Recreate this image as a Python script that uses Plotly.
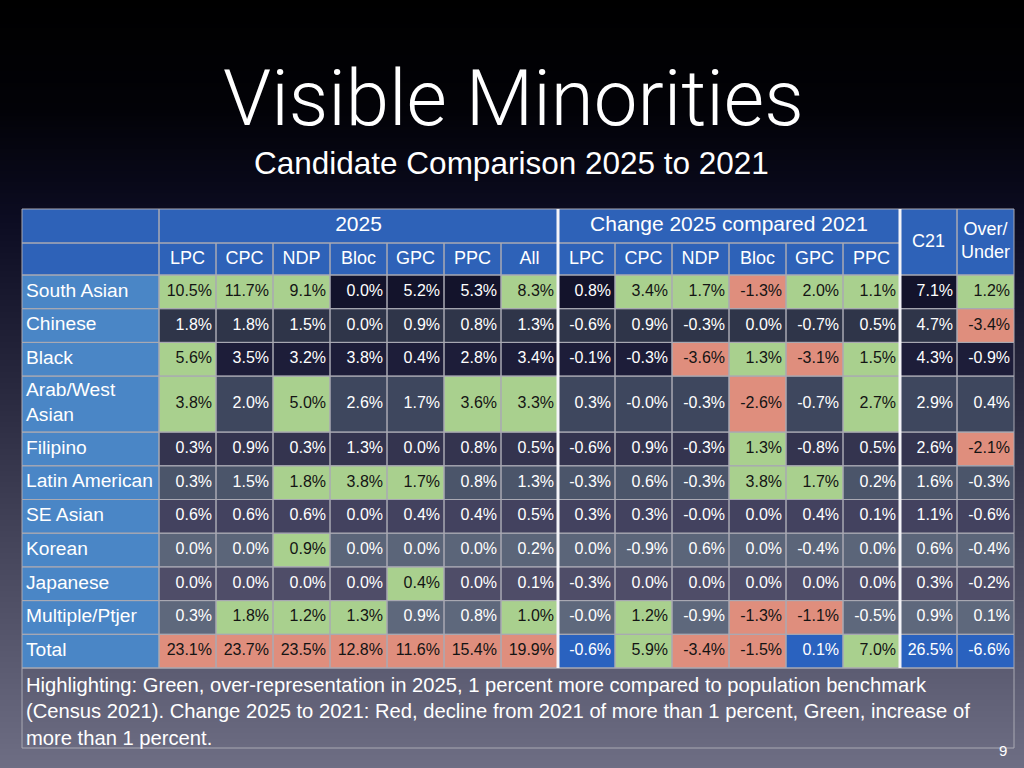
import plotly.graph_objects as go

# ---------------- data ----------------
GROUPS = ["South Asian", "Chinese", "Black", "Arab/West Asian", "Filipino",
          "Latin American", "SE Asian", "Korean", "Japanese", "Multiple/Ptjer", "Total"]
PARTIES_2025 = ["LPC", "CPC", "NDP", "Bloc", "GPC", "PPC", "All"]
PARTIES_CHANGE = ["LPC", "CPC", "NDP", "Bloc", "GPC", "PPC"]

LPC_2025 = [10.5, 1.8, 5.6, 3.8, 0.3, 0.3, 0.6, 0.0, 0.0, 0.3, 23.1]
CPC_2025 = [11.7, 1.8, 3.5, 2.0, 0.9, 1.5, 0.6, 0.0, 0.0, 1.8, 23.7]
NDP_2025 = [9.1, 1.5, 3.2, 5.0, 0.3, 1.8, 0.6, 0.9, 0.0, 1.2, 23.5]
BLOC_2025 = [0.0, 0.0, 3.8, 2.6, 1.3, 3.8, 0.0, 0.0, 0.0, 1.3, 12.8]
GPC_2025 = [5.2, 0.9, 0.4, 1.7, 0.0, 1.7, 0.4, 0.0, 0.4, 0.9, 11.6]
PPC_2025 = [5.3, 0.8, 2.8, 3.6, 0.8, 0.8, 0.4, 0.0, 0.0, 0.8, 15.4]
ALL_2025 = [8.3, 1.3, 3.4, 3.3, 0.5, 1.3, 0.5, 0.2, 0.1, 1.0, 19.9]

LPC_CHG = [0.8, -0.6, -0.1, 0.3, -0.6, -0.3, 0.3, 0.0, -0.3, -0.0, -0.6]
CPC_CHG = [3.4, 0.9, -0.3, -0.0, 0.9, 0.6, 0.3, -0.9, 0.0, 1.2, 5.9]
NDP_CHG = [1.7, -0.3, -3.6, -0.3, -0.3, -0.3, -0.0, 0.6, 0.0, -0.9, -3.4]
BLOC_CHG = [-1.3, 0.0, 1.3, -2.6, 1.3, 3.8, 0.0, 0.0, 0.0, -1.3, -1.5]
GPC_CHG = [2.0, -0.7, -3.1, -0.7, -0.8, 1.7, 0.4, -0.4, 0.0, -1.1, 0.1]
PPC_CHG = [1.1, 0.5, 1.5, 2.7, 0.5, 0.2, 0.1, 0.0, 0.0, -0.5, 7.0]

C21 = [7.1, 4.7, 4.3, 2.9, 2.6, 1.6, 1.1, 0.6, 0.3, 0.9, 26.5]
OVER_UNDER = [1.2, -3.4, -0.9, 0.4, -2.1, -0.3, -0.6, -0.4, -0.2, 0.1, -6.6]

HEADER_2025 = "2025"
HEADER_CHANGE = "Change 2025 compared 2021"
HEADER_C21 = "C21"
HEADER_OVER = "Over/<br>Under"
TITLE = "Visible Minorities"
SUBTITLE = "Candidate Comparison 2025 to 2021"
NOTE_LINES = [
    "Highlighting: Green, over-representation in 2025, 1 percent more compared to population benchmark",
    "(Census 2021). Change 2025 to 2021: Red, decline from 2021 of more than 1 percent, Green, increase of",
    "more than 1 percent.",
]
PAGE = "9"
WRAP = {"Arab/West Asian": "Arab/West<br>Asian"}

SHARE_2025 = [LPC_2025, CPC_2025, NDP_2025, BLOC_2025, GPC_2025, PPC_2025, ALL_2025]
CHANGE = [LPC_CHG, CPC_CHG, NDP_CHG, BLOC_CHG, GPC_CHG, PPC_CHG]

# ---------------- style / geometry ----------------
W, H = 1024, 768
X0, LABEL_W, COL_W = 22, 137, 57
Y0 = 209
HEAD_H = (34, 32)
ROW_H, TALL_H = 33.7, 56
NOTE_H = 80

HEAD_BLUE = "#2e62b8"
LABEL_BLUE = "#4a86c6"
GREEN = "#a9d08e"
RED = "#df8e7d"
TOTAL_BLUE = "#2a62bf"
ROW_BG = ["#13132b", "#2f3549", "#1d1d39", "#3e475e", "#34344f",
          "#4b556a", "#43425f", "#5b6579", "#4f4d68", "#5e687c"]
GRID = "#a9a9b3"
DARK_TXT = "#141414"
WHITE = "#ffffff"
SANS = "Liberation Sans, Arial, Helvetica, sans-serif"
NARROW = "Liberation Sans Narrow, Arial Narrow, Liberation Sans, Arial, sans-serif"

ncols = len(PARTIES_2025) + len(PARTIES_CHANGE) + 2
col_edges = [X0 + LABEL_W + i * COL_W for i in range(ncols + 1)]
row_edges = [Y0 + HEAD_H[0] + HEAD_H[1]]
for g in GROUPS:
    row_edges.append(row_edges[-1] + (TALL_H if g in WRAP else ROW_H))

fills = {}
outline_x, outline_y = [], []


def rect(color, xa, xb, ya, yb, outline=True):
    if color is not None:
        xs, ys = fills.setdefault(color, ([], []))
        xs += [xa, xb, xb, xa, xa, None]
        ys += [ya, ya, yb, yb, ya, None]
    if outline:
        outline_x.extend([xa, xb, xb, xa, xa, None])
        outline_y.extend([ya, ya, yb, yb, ya, None])


hdr = dict(x=[], y=[], text=[], size=[])
lab = dict(x=[], y=[], text=[])
val = dict(x=[], y=[], text=[], color=[])

# header
ya, ym, yb = Y0, Y0 + HEAD_H[0], row_edges[0]
rect(HEAD_BLUE, X0, col_edges[0], ya, ym)
rect(HEAD_BLUE, X0, col_edges[0], ym, yb)
n25 = len(PARTIES_2025)
nch = len(PARTIES_CHANGE)
spans = [(0, n25, HEADER_2025), (n25, n25 + nch, HEADER_CHANGE)]
for c0, c1, t in spans:
    rect(HEAD_BLUE, col_edges[c0], col_edges[c1], ya, ym)
    hdr["x"].append((col_edges[c0] + col_edges[c1]) / 2)
    hdr["y"].append((ya + ym) / 2)
    hdr["text"].append(t)
    hdr["size"].append(21)
for k, t in enumerate([HEADER_C21, HEADER_OVER]):
    c = n25 + nch + k
    rect(HEAD_BLUE, col_edges[c], col_edges[c + 1], ya, yb)
    hdr["x"].append((col_edges[c] + col_edges[c + 1]) / 2)
    hdr["y"].append((ya + yb) / 2)
    hdr["text"].append(t)
    hdr["size"].append(18)
for c, t in enumerate(PARTIES_2025 + PARTIES_CHANGE):
    rect(HEAD_BLUE, col_edges[c], col_edges[c + 1], ym, yb)
    hdr["x"].append((col_edges[c] + col_edges[c + 1]) / 2)
    hdr["y"].append((ym + yb) / 2)
    hdr["text"].append(t)
    hdr["size"].append(18)

# body
for i, g in enumerate(GROUPS):
    y0, y1 = row_edges[i], row_edges[i + 1]
    yc = (y0 + y1) / 2
    is_total = g == "Total"
    base = ROW_BG[i] if not is_total else TOTAL_BLUE
    rect(LABEL_BLUE, X0, col_edges[0], y0, y1)
    lab["x"].append(X0 + 4)
    lab["y"].append(yc)
    lab["text"].append(WRAP.get(g, g))

    cells = []
    for j, series in enumerate(SHARE_2025):
        v = series[i]
        if is_total:
            col = RED if v < C21[i] else GREEN
        else:
            col = GREEN if v > C21[i] else base
        cells.append((v, col))
    for series in CHANGE:
        v = series[i]
        col = GREEN if v > 1.0 else RED if v < -1.0 else base
        cells.append((v, col))
    cells.append((C21[i], base))
    v = OVER_UNDER[i]
    if is_total:
        cells.append((v, base))
    else:
        cells.append((v, GREEN if v > 1.0 else RED if v < -1.0 else base))

    for c, (v, col) in enumerate(cells):
        rect(col, col_edges[c], col_edges[c + 1], y0, y1)
        val["x"].append(col_edges[c + 1] - 4)
        val["y"].append(yc)
        val["text"].append(f"{v:.1f}%")
        val["color"].append(DARK_TXT if col in (GREEN, RED) else WHITE)

# note box
note_top = row_edges[-1]
rect(None, X0, col_edges[-1], note_top, note_top + NOTE_H)

# ---------------- figure ----------------
fig = go.Figure()

bg_y = [0, 110, 220, 380, 550, H]
bg_cols = ["#000000", "#020207", "#0c0c22", "#27273d", "#46465c", "#6e6e84"]
fig.add_trace(go.Heatmap(
    x=[0, W], y=bg_y, z=[[yy, yy] for yy in bg_y], zmin=0, zmax=H,
    colorscale=[[yy / H, c] for yy, c in zip(bg_y, bg_cols)],
    zsmooth="best", showscale=False, hoverinfo="skip"))

for color, (xs, ys) in fills.items():
    fig.add_trace(go.Scatter(x=xs, y=ys, mode="lines", fill="toself",
                             fillcolor=color, line=dict(width=0, color=color),
                             hoverinfo="skip", showlegend=False))

fig.add_trace(go.Scatter(x=outline_x, y=outline_y, mode="lines",
                         line=dict(color=GRID, width=1),
                         hoverinfo="skip", showlegend=False))

# white separators between sections
for c in (n25, n25 + nch):
    fig.add_trace(go.Scatter(x=[col_edges[c], col_edges[c]], y=[Y0, note_top],
                             mode="lines", line=dict(color="#f4f4f8", width=3),
                             hoverinfo="skip", showlegend=False))

fig.add_trace(go.Scatter(x=hdr["x"], y=hdr["y"], text=hdr["text"], mode="text",
                         textposition="middle center",
                         textfont=dict(family=SANS, size=hdr["size"], color=WHITE),
                         hoverinfo="skip", showlegend=False))
fig.add_trace(go.Scatter(x=lab["x"], y=lab["y"], text=lab["text"], mode="text",
                         textposition="middle right",
                         textfont=dict(family=SANS, size=19.2, color=WHITE),
                         hoverinfo="skip", showlegend=False))
fig.add_trace(go.Scatter(x=val["x"], y=val["y"], text=val["text"], mode="text",
                         textposition="middle left",
                         textfont=dict(family=NARROW, size=16, color=val["color"]),
                         hoverinfo="skip", showlegend=False))

annotations = [
    dict(x=W / 2 + 1, y=98, text=TITLE, showarrow=False, xanchor="center", yanchor="middle",
         font=dict(family="Roboto, Liberation Sans, sans-serif", size=78, color=WHITE, weight=300)),
    dict(x=W / 2 - 1, y=163, text=SUBTITLE, showarrow=False, xanchor="center", yanchor="middle",
         font=dict(family=SANS, size=31.5, color=WHITE)),
    dict(x=X0 + 2, y=note_top + 4, text="<br>".join(NOTE_LINES), showarrow=False,
         xanchor="left", yanchor="top", align="left",
         font=dict(family=SANS, size=20.2, color=WHITE)),
    dict(x=1003, y=750, text=PAGE, showarrow=False, xanchor="center", yanchor="middle",
         font=dict(family=SANS, size=15, color=WHITE)),
]
for a in annotations:
    a.update(xref="x", yref="y")

fig.update_layout(
    width=W, height=H, margin=dict(l=0, r=0, t=0, b=0),
    paper_bgcolor="#000000", plot_bgcolor="#000000",
    showlegend=False, annotations=annotations,
    xaxis=dict(range=[0, W], visible=False, fixedrange=True),
    yaxis=dict(range=[H, 0], visible=False, fixedrange=True),
)

fig.write_html(
    "out.html",
    config={"displayModeBar": False},
    post_script="document.body.style.margin='0';document.body.style.background='#000';",
)
